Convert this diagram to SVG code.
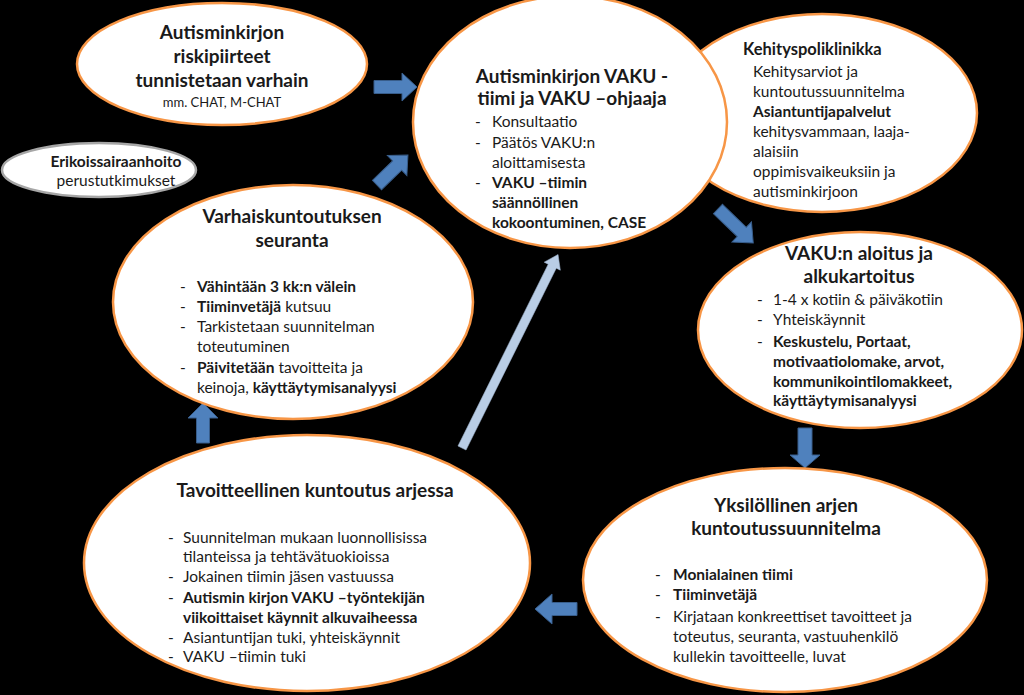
<svg xmlns="http://www.w3.org/2000/svg" width="1024" height="695" viewBox="0 0 1024 695">
<style>
.bg{fill:#000}
.node{fill:#fff;stroke:#f79646;stroke-width:2.5}
.gray{fill:#fff;stroke:#a6a6a6;stroke-width:2.5}
.t{font-family:Lato,"Liberation Sans",sans-serif;fill:#1a1a1a}
.h{font-size:19px;font-weight:bold;text-anchor:middle}
.b{font-size:15.5px}
.bb{font-weight:bold}
.sm{font-size:13px;text-anchor:middle}
.arr{fill:#4f81bd;stroke:#385d8a;stroke-width:1}
.arrl{fill:#b9cde5;stroke:#a0b6d0;stroke-width:0.5}
</style>
<rect class="bg" x="0" y="0" width="1024" height="695"/>

<g id="connectors">
  <polygon class="arr" transform="translate(374,87)" points="0,-6.5 28,-6.5 28,-14 43,0 28,14 28,6.5 0,6.5"/>
  <polygon class="arr" transform="translate(377,185) rotate(-44)" points="0,-6.5 28,-6.5 28,-14 43,0 28,14 28,6.5 0,6.5"/>
  <polygon class="arr" transform="translate(718,209) rotate(44)" points="0,-6.5 33,-6.5 33,-14 49,0 33,14 33,6.5 0,6.5"/>
  <polygon class="arr" transform="translate(805,428) rotate(90)" points="0,-7 27,-7 27,-15 40,0 27,15 27,7 0,7"/>
  <polygon class="arr" transform="translate(577,609) rotate(180)" points="0,-6.5 25,-6.5 25,-15 42,0 25,15 25,6.5 0,6.5"/>
  <polygon class="arr" transform="translate(203,443) rotate(-90)" points="0,-6.5 25,-6.5 25,-15 40,0 25,15 25,6.5 0,6.5"/>
  <polygon class="arrl" transform="translate(462,448) rotate(-63.6)" points="0,-4.5 203,-4.5 203,-9 216,0 203,9 203,4.5 0,4.5"/>
</g>

<g id="node-riski">
  <ellipse class="node" cx="222" cy="64" rx="145" ry="61"/>
  <text class="t h" x="222" y="39">Autisminkirjon</text>
  <text class="t h" x="222" y="63">riskipiirteet</text>
  <text class="t h" x="222" y="87">tunnistetaan varhain</text>
  <text class="t sm" x="222" y="107">mm. CHAT, M-CHAT</text>
</g>

<g id="node-erikois">
  <ellipse class="gray" cx="99" cy="170" rx="97" ry="27"/>
  <text class="t b bb" x="116" y="167" text-anchor="middle">Erikoissairaanhoito</text>
  <text class="t b" x="116" y="186" text-anchor="middle">perustutkimukset</text>
</g>

<g id="node-kehitys">
  <ellipse class="node" cx="822" cy="113" rx="155" ry="99"/>
  <text class="t bb" x="743" y="55" font-size="16.5">Kehityspoliklinikka</text>
  <text class="t b" x="753" y="77">Kehitysarviot ja</text>
  <text class="t b" x="753" y="97">kuntoutussuunnitelma</text>
  <text class="t b bb" x="753" y="117">Asiantuntijapalvelut</text>
  <text class="t b" x="753" y="137">kehitysvammaan, laaja-</text>
  <text class="t b" x="753" y="157">alaisiin</text>
  <text class="t b" x="753" y="177">oppimisvaikeuksiin ja</text>
  <text class="t b" x="753" y="197">autisminkirjoon</text>
</g>

<g id="node-vaku">
  <ellipse class="node" cx="570" cy="122" rx="157" ry="126"/>
  <text class="t h" x="572" y="83">Autisminkirjon VAKU -</text>
  <text class="t h" x="572" y="105">tiimi ja VAKU –ohjaaja</text>
  <g class="t b">
    <text x="475" y="127">-</text><text x="492" y="127">Konsultaatio</text>
    <text x="475" y="148">-</text><text x="492" y="148">Päätös VAKU:n</text>
    <text x="492" y="168">aloittamisesta</text>
    <text x="475" y="188">-</text><text x="492" y="188" class="bb">VAKU –tiimin</text>
    <text x="492" y="208" class="bb">säännöllinen</text>
    <text x="492" y="228" class="bb">kokoontuminen, CASE</text>
  </g>
</g>

<g id="node-varhais">
  <ellipse class="node" cx="293" cy="302" rx="180" ry="117"/>
  <text class="t h" x="292" y="223">Varhaiskuntoutuksen</text>
  <text class="t h" x="292" y="247">seuranta</text>
  <g class="t b">
    <text x="180" y="292">-</text><text x="197" y="292" class="bb">Vähintään 3 kk:n välein</text>
    <text x="180" y="312">-</text><text x="197" y="312"><tspan class="bb">Tiiminvetäjä</tspan> kutsuu</text>
    <text x="180" y="332">-</text><text x="197" y="332">Tarkistetaan suunnitelman</text>
    <text x="197" y="352">toteutuminen</text>
    <text x="180" y="373">-</text><text x="197" y="373"><tspan class="bb">Päivitetään</tspan> tavoitteita ja</text>
    <text x="197" y="393">keinoja, <tspan class="bb">käyttäytymisanalyysi</tspan></text>
  </g>
</g>

<g id="node-aloitus">
  <ellipse class="node" cx="860" cy="330" rx="162" ry="98"/>
  <text class="t h" x="859" y="260">VAKU:n aloitus ja</text>
  <text class="t h" x="859" y="283">alkukartoitus</text>
  <g class="t b">
    <text x="757" y="305">-</text><text x="773" y="305">1-4 x kotiin &amp; päiväkotiin</text>
    <text x="757" y="325">-</text><text x="773" y="325">Yhteiskäynnit</text>
    <text x="757" y="347">-</text><text x="773" y="347" class="bb">Keskustelu, Portaat,</text>
    <text x="773" y="367" class="bb">motivaatiolomake, arvot,</text>
    <text x="773" y="387" class="bb">kommunikointilomakkeet,</text>
    <text x="773" y="406" class="bb">käyttäytymisanalyysi</text>
  </g>
</g>

<g id="node-yksilo">
  <ellipse class="node" cx="785" cy="580" rx="202" ry="112"/>
  <text class="t h" x="786" y="512">Yksilöllinen arjen</text>
  <text class="t h" x="786" y="535">kuntoutussuunnitelma</text>
  <g class="t b">
    <text x="655" y="580">-</text><text x="673" y="580" class="bb">Monialainen tiimi</text>
    <text x="655" y="600">-</text><text x="673" y="600" class="bb">Tiiminvetäjä</text>
    <text x="655" y="622">-</text><text x="673" y="622">Kirjataan konkreettiset tavoitteet ja</text>
    <text x="673" y="642">toteutus, seuranta, vastuuhenkilö</text>
    <text x="673" y="662">kullekin tavoitteelle, luvat</text>
  </g>
</g>

<g id="node-tavoit">
  <ellipse class="node" cx="307" cy="563" rx="223" ry="128"/>
  <text class="t h" x="315" y="497">Tavoitteellinen kuntoutus arjessa</text>
  <g class="t b">
    <text x="168" y="543">-</text><text x="183" y="543">Suunnitelman mukaan luonnollisissa</text>
    <text x="183" y="562">tilanteissa ja tehtävätuokioissa</text>
    <text x="168" y="582">-</text><text x="183" y="582">Jokainen tiimin jäsen vastuussa</text>
    <text x="168" y="603">-</text><text x="183" y="603" class="bb">Autismin kirjon VAKU –työntekijän</text>
    <text x="183" y="623" class="bb">viikoittaiset käynnit alkuvaiheessa</text>
    <text x="168" y="643">-</text><text x="183" y="643">Asiantuntijan tuki, yhteiskäynnit</text>
    <text x="168" y="662">-</text><text x="183" y="662">VAKU –tiimin tuki</text>
  </g>
</g>
</svg>
